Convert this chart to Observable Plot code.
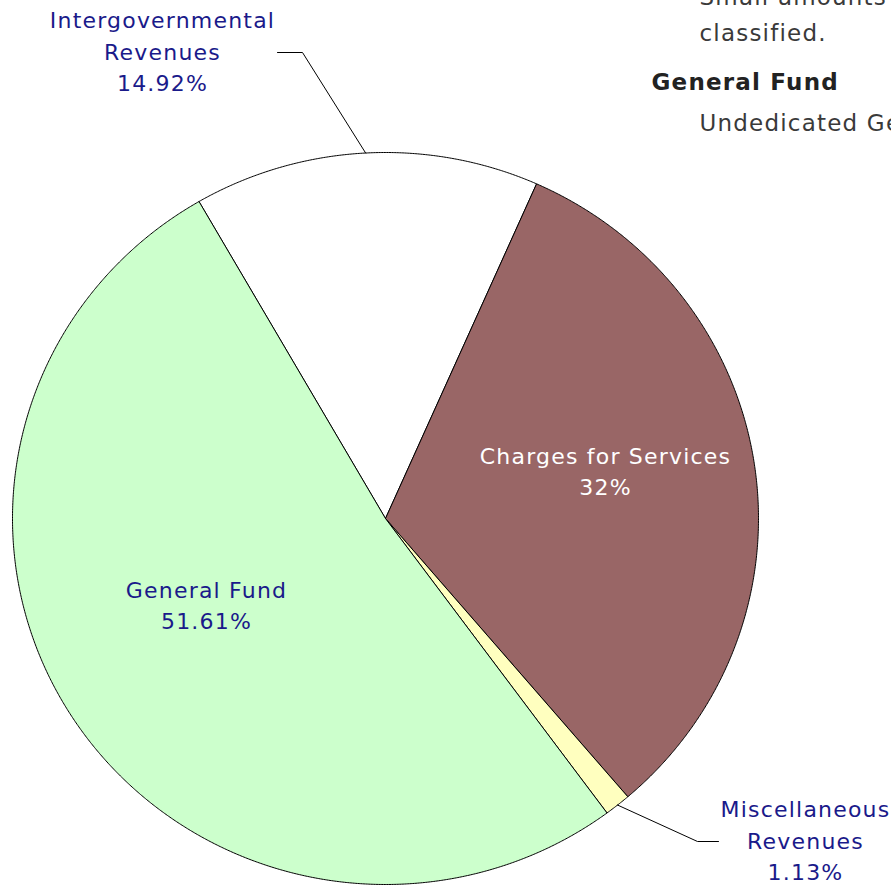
<!DOCTYPE html>
<html>
<head>
<meta charset="utf-8">
<script src="https://cdn.jsdelivr.net/npm/d3@7"></script>
<script src="https://cdn.jsdelivr.net/npm/@observablehq/plot@0.6"></script>
<style>
  html, body { margin: 0; padding: 0; background: #ffffff; overflow: hidden; width: 891px; height: 885px; }
  #chart svg { display: block; }
  .pielabel text { letter-spacing: 1.2px; }
  .glossary text { letter-spacing: 1.2px; }
</style>
</head>
<body>
<div id="chart"></div>
<script>
// ---- data ----
const categories = ["Intergovernmental Revenues", "Charges for Services", "Miscellaneous Revenues", "General Fund"];
const labelNames = ["Intergovernmental\nRevenues", "Charges for Services", "Miscellaneous\nRevenues", "General Fund"];
const shares = [14.92, 32, 1.13, 51.61];
const sliceColors = ["#ffffff", "#996666", "#ffffbf", "#ccffcc"];
const labelColors = ["#1a1a8a", "#ffffff", "#1a1a8a", "#1a1a8a"];
const glossaryTerms = ["General Fund"];
const glossaryLines = ["Small amounts of revenue not otherwise", "classified.", "Undedicated General Fund revenues"];

// ---- layout ----
const W = 891, H = 885;
const cx = 385, cy = 518, rx = 373, ry = 366;
const startDeg = -30;
const rad = Math.PI / 180;
// label placement (center of label block) and leader elbows for outside labels
const labelLayout = {
  "Intergovernmental Revenues": {x: 162, y: 49, elbow: [302, 52], end: [277, 52]},
  "Charges for Services": {x: 605, y: 469},
  "Miscellaneous Revenues": {x: 805, y: 838, elbow: [697, 841], end: [718, 841]},
  "General Fund": {x: 206, y: 603}
};

const total = d3.sum(shares);
const pt = (deg, k = 1) => [cx + k * rx * Math.sin(deg * rad), cy - k * ry * Math.cos(deg * rad)];

let acc = startDeg;
const slices = categories.map((name, i) => {
  const a0 = acc, a1 = acc + shares[i] / total * 360;
  acc = a1;
  return {name, label: labelNames[i], value: shares[i], fill: sliceColors[i], textFill: labelColors[i], a0, a1, mid: (a0 + a1) / 2};
});

const polyPoints = [];
slices.forEach(s => {
  polyPoints.push({name: s.name, fill: s.fill, x: cx, y: cy});
  const n = Math.max(2, Math.ceil((s.a1 - s.a0) / 0.25));
  for (let j = 0; j <= n; j++) {
    const [x, y] = pt(s.a0 + (s.a1 - s.a0) * j / n);
    polyPoints.push({name: s.name, fill: s.fill, x, y});
  }
  polyPoints.push({name: s.name, fill: s.fill, x: cx, y: cy});
});

const leaderPoints = [];
slices.forEach(s => {
  const L = labelLayout[s.name];
  if (!L.elbow) return;
  const [x0, y0] = pt(s.mid);
  leaderPoints.push({name: s.name, x: x0, y: y0});
  leaderPoints.push({name: s.name, x: L.elbow[0], y: L.elbow[1]});
  leaderPoints.push({name: s.name, x: L.end[0], y: L.end[1]});
});

const fmt = v => `${v}%`;
const labels = slices.map(s => ({
  text: `${s.label}\n${fmt(s.value)}`,
  x: labelLayout[s.name].x, y: labelLayout[s.name].y, color: s.textFill
}));

const glossary = [
  {text: glossaryLines[0], x: 699, y: 4, weight: "normal", color: "#3a3a3a"},
  {text: glossaryLines[1], x: 699, y: 40, weight: "normal", color: "#3a3a3a"},
  {text: glossaryTerms[0], x: 651, y: 89, weight: "bold", color: "#222222"},
  {text: glossaryLines[2], x: 699, y: 130, weight: "normal", color: "#3a3a3a"}
];

const chart = Plot.plot({
  width: W, height: H,
  margin: 0,
  x: {domain: [0, W], range: [0, W], axis: null},
  y: {domain: [0, H], range: [0, H], axis: null},
  color: {type: "identity"},
  style: {background: "#ffffff"},
  marks: [
    Plot.line(polyPoints, {x: "x", y: "y", z: "name", fill: "fill", stroke: "#000000", strokeWidth: 1, curve: "linear"}),
    Plot.line(leaderPoints, {x: "x", y: "y", z: "name", stroke: "#000000", strokeWidth: 1}),
    Plot.text(labels, {x: "x", y: "y", text: "text", fill: "color", fontSize: 22, lineHeight: 1.43,
      fontFamily: "DejaVu Sans", textAnchor: "middle", lineAnchor: "middle", className: "pielabel"}),
    Plot.text(glossary.filter(d => d.weight === "normal"), {x: "x", y: "y", text: "text", fill: "color", fontSize: 23,
      fontFamily: "DejaVu Sans", textAnchor: "start", lineAnchor: "bottom", className: "glossary"}),
    Plot.text(glossary.filter(d => d.weight !== "normal"), {x: "x", y: "y", text: "text", fill: "color", fontSize: 23,
      fontWeight: "bold", fontFamily: "DejaVu Sans", textAnchor: "start", lineAnchor: "bottom", className: "glossary"})
  ]
});
document.getElementById("chart").appendChild(chart);
</script>
</body>
</html>
